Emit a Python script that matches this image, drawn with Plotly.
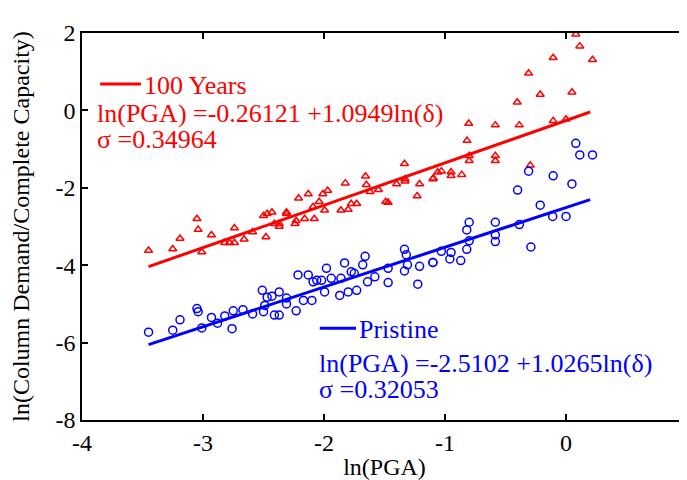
import plotly.graph_objects as go

# ---- data ----
red_x = [0.081, 0.114, -0.106, 0.219, -0.309, -0.213, 0.049, -0.403, -0.804, -0.584, -0.386, -0.106,
         -0.818, -0.80, -0.80, -0.584, -0.584, -0.295, -1.03, -0.95, -0.95, -0.862, -1.096, 0.0,
         -1.335, -1.657, -1.824, -1.65, -1.33, -1.33, -1.21, -1.10, -1.06, -1.23, -1.47, -1.62,
         -1.97, -2.01, -2.13, -2.21, -2.31, -2.23, -2.16, -2.08, -1.995, -1.86, -1.80, -1.775,
         -1.73, -2.09, -2.04, -2.24, -1.49, -2.37, -1.55, -1.40,
         -3.45, -3.25, -3.19, -3.05, -3.04, -3.01, -2.93, -2.82, -2.78, -2.74, -2.74, -2.66,
         -2.59, -2.48, -2.50, -2.47, -2.43, -2.41, -2.37, -2.31]
red_y = [1.97, 1.66, 1.36, 1.31, 0.96, 0.41, 0.47, 0.21, -0.34, -0.38, -0.38, -0.27,
         -0.78, -1.17, -1.30, -1.17, -1.30, -1.42, -1.57, -1.59, -1.69, -1.66, -1.75, -0.23,
         -1.38, -1.70, -1.88, -1.92, -1.77, -1.83, -1.90, -1.77, -1.60, -2.21, -2.38, -2.10,
         -2.07, -2.16, -2.16, -2.27, -2.63, -2.85, -2.80, -2.80, -2.58, -2.58, -2.56, -2.41,
         -2.41, -2.49, -2.36, -2.93, -2.36, -3.00, -2.05, -1.90,
         -3.62, -3.58, -3.31, -2.80, -3.08, -3.66, -3.22, -3.42, -3.42, -3.42, -3.04, -3.33,
         -3.14, -3.27, -2.72, -2.67, -2.63, -2.93, -2.93, -2.67]

blue_x = [-3.45, -3.25, -3.19, -3.05, -3.04, -3.01, -2.93, -2.88, -2.76, -2.82, -2.75, -2.67,
          -2.59, -2.51, -2.50, -2.47, -2.43, -2.41, -2.37, -2.31, -2.49,
          -2.215, -2.13, -2.09, -2.06, -2.02, -1.98, -1.94, -1.86, -1.83, -1.775, -1.75, -1.68,
          -1.66, -1.58, -1.64, -1.47, -1.47, -1.335, -1.32, -1.335, -1.31, -1.21, -1.10, -1.225,
          -1.995, -1.87, -1.80, -1.73, -2.10, -2.17, -2.23, -2.31, -2.37,
          0.081, 0.114, 0.219, -0.309, -0.106, 0.049, -0.40, -0.213, -0.11, 0.0, -0.386, -0.80,
          -0.82, -0.80, -0.82, -0.584, -0.584, -0.584, -0.29, -1.03, -0.95, -0.96, -0.87, -1.10]
blue_y = [-5.73, -5.68, -5.41, -5.12, -5.20, -5.62, -5.35, -5.50, -5.64, -5.31, -5.18, -5.15,
          -5.26, -4.65, -5.20, -4.83, -4.80, -5.29, -5.29, -4.85, -5.04,
          -4.25, -4.25, -4.43, -4.39, -4.39, -4.08, -4.34, -4.34, -3.94, -4.17, -4.21, -3.99,
          -3.77, -4.30, -4.43, -4.08, -4.45, -3.59, -3.73, -4.15, -3.99, -4.03, -3.93, -4.49,
          -4.69, -4.78, -4.69, -4.65, -4.91, -4.91, -5.18, -5.00, -4.69,
          -0.85, -1.15, -1.15, -1.57, -1.69, -1.90, -2.06, -2.45, -2.74, -2.74, -2.95, -2.89,
          -3.09, -3.37, -3.59, -2.89, -3.22, -3.39, -3.53, -3.64, -3.67, -3.84, -3.88, -3.93]

# regression fits shown in the chart
fit_x_range = [-3.45, 0.2]
red_fit = (-0.26121, 1.0949, 0.34964)
blue_fit = (-2.5102, 1.0265, 0.32053)

x_ticks = [-4, -3, -2, -1, 0, 1]
y_ticks = [-8, -6, -4, -2, 0, 2]

RED = "#ff0000"
BLUE = "#0000ff"
FONT = "Liberation Serif"

def fit_line(coef):
    a, b, _ = coef
    return [a + b * x for x in fit_x_range]

fig = go.Figure()
fig.add_trace(go.Scatter(x=red_x, y=red_y, mode="markers",
                         marker=dict(symbol="triangle-up-open", size=7, color=RED,
                                     line=dict(width=1.5, color=RED)),
                         showlegend=False))
fig.add_trace(go.Scatter(x=blue_x, y=blue_y, mode="markers",
                         marker=dict(symbol="circle-open", size=8, color=BLUE,
                                     line=dict(width=1.5, color=BLUE)),
                         showlegend=False))
fig.add_trace(go.Scatter(x=fit_x_range, y=fit_line(red_fit), mode="lines",
                         line=dict(color=RED, width=3), showlegend=False))
fig.add_trace(go.Scatter(x=fit_x_range, y=fit_line(blue_fit), mode="lines",
                         line=dict(color=BLUE, width=3), showlegend=False))

LEG_SIZE = 26

def legend_block(color, name, coef, x0, x1, y_line, y_name, x_text, y_eq, y_sig):
    a, b, s = coef
    fig.add_shape(type="line", xref="paper", yref="paper", x0=x0, x1=x1, y0=y_line, y1=y_line,
                  line=dict(color=color, width=3))
    fig.add_annotation(xref="paper", yref="paper", x=x1 + 0.002, y=y_name, text=name,
                       xanchor="left", yanchor="middle", showarrow=False,
                       font=dict(family=FONT, size=LEG_SIZE, color=color))
    fig.add_annotation(xref="paper", yref="paper", x=x_text, y=y_eq,
                       text="ln(PGA) =%s +%sln(δ)" % (a, b),
                       xanchor="left", yanchor="middle", showarrow=False,
                       font=dict(family=FONT, size=LEG_SIZE, color=color))
    fig.add_annotation(xref="paper", yref="paper", x=x_text, y=y_sig,
                       text="σ =%s" % s,
                       xanchor="left", yanchor="middle", showarrow=False,
                       font=dict(family=FONT, size=LEG_SIZE, color=color))

legend_block(RED, "100 Years", red_fit, 0.030, 0.0975, 0.868, 0.864, 0.022, 0.792, 0.724)
legend_block(BLUE, "Pristine", blue_fit, 0.393, 0.453, 0.237, 0.233, 0.388, 0.147, 0.079)

axis_common = dict(showline=True, linecolor="black", linewidth=1.5, mirror="ticks",
                   ticks="inside", ticklen=6, tickwidth=1.5, tickcolor="black",
                   showgrid=False, zeroline=False, automargin=False,
                   ticklabeloverflow="allow",
                   tickfont=dict(family=FONT, size=24, color="black"))
fig.update_xaxes(range=[-4, 1], tickvals=x_ticks, ticktext=[str(v) for v in x_ticks],
                 title=dict(text="ln(PGA)", font=dict(family=FONT, size=24, color="black"), standoff=8),
                 **axis_common)
fig.update_yaxes(range=[-8, 2], tickvals=y_ticks, ticktext=[str(v) for v in y_ticks],
                 title=dict(text="ln(Column Demand/Complete Capacity)",
                            font=dict(family=FONT, size=24, color="black"), standoff=28),
                 **axis_common)
# the page body adds an 8px offset, so the figure is sized/margined to land the
# plot area where the reference has it
fig.update_layout(width=679, height=472, margin=dict(l=74, r=0, t=25, b=60),
                  plot_bgcolor="white", paper_bgcolor="white", showlegend=False)
fig.write_html("out.html")
